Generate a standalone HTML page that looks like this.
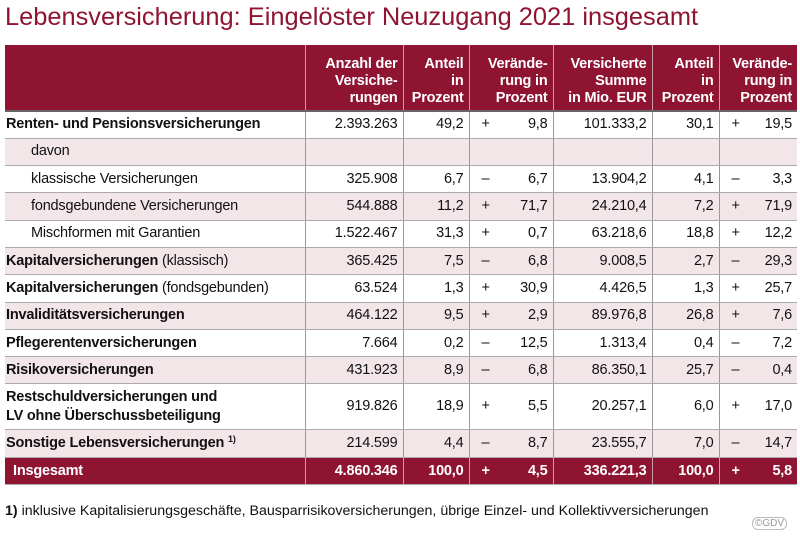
<!DOCTYPE html>
<html><head><meta charset="utf-8"><style>
body{margin:0;width:800px;height:538px;background:#fff;font-family:"Liberation Sans",sans-serif;color:#111;position:relative;overflow:hidden}
h1{position:absolute;left:5px;top:3px;margin:0;font-weight:normal;font-size:25.4px;color:#8e1432;letter-spacing:0px;white-space:nowrap}
table{position:absolute;left:5px;top:45px;border-collapse:collapse;table-layout:fixed;font-size:14.5px;letter-spacing:-0.2px}
td,th{padding:0 5px;height:27.3px;line-height:17px;border-bottom:1px solid #aaa;border-left:1px solid #999;white-space:nowrap;text-align:right;box-sizing:border-box}
td:first-child,th:first-child{border-left:none;text-align:left;font-weight:bold;padding-left:1px}
thead th{background:#8e1432;color:#fff;font-weight:bold;height:66px;line-height:17px;vertical-align:bottom;padding-bottom:3px;border-left:1px solid #c9a0aa;border-bottom:2px solid #666}
tr.p td{background:#f3e6e8}
td.s{position:relative}
td.s span{position:absolute;left:12px}
td.n{font-weight:normal!important;padding-left:26px}
tr.t td{background:#8e1432;color:#fff;font-weight:bold;border-left:1px solid #c9a0aa;height:27.5px}
tr.t td:first-child{padding-left:8px;border-left:none}
tr.d td{height:46px}
sup{font-size:9px;line-height:0;vertical-align:5px}
.foot{position:absolute;left:5px;top:503px;font-size:14.2px;letter-spacing:0px}
.gdv{position:absolute;left:752px;top:517px;font-size:10px;color:#999;border:1px solid #bbb;border-radius:6px;padding:0 2px}
</style></head><body>
<h1>Lebensversicherung: Eingelöster Neuzugang 2021 insgesamt</h1>
<table>
<colgroup><col style="width:300px"><col style="width:98px"><col style="width:66px"><col style="width:84px"><col style="width:99px"><col style="width:67px"><col style="width:78px"></colgroup>
<thead><tr><th></th><th>Anzahl der<br>Versiche-<br>rungen</th><th>Anteil<br>in<br>Prozent</th><th>Verände-<br>rung in<br>Prozent</th><th>Versicherte<br>Summe<br>in Mio. EUR</th><th>Anteil<br>in<br>Prozent</th><th>Verände-<br>rung in<br>Prozent</th></tr></thead>
<tbody>
<tr><td>Renten- und Pensionsversicherungen</td><td>2.393.263</td><td>49,2</td><td class="s"><span>+</span>9,8</td><td>101.333,2</td><td>30,1</td><td class="s"><span>+</span>19,5</td></tr>
<tr class="p"><td class="n">davon</td><td></td><td></td><td></td><td></td><td></td><td></td></tr>
<tr><td class="n">klassische Versicherungen</td><td>325.908</td><td>6,7</td><td class="s"><span>–</span>6,7</td><td>13.904,2</td><td>4,1</td><td class="s"><span>–</span>3,3</td></tr>
<tr class="p"><td class="n">fondsgebundene Versicherungen</td><td>544.888</td><td>11,2</td><td class="s"><span>+</span>71,7</td><td>24.210,4</td><td>7,2</td><td class="s"><span>+</span>71,9</td></tr>
<tr><td class="n">Mischformen mit Garantien</td><td>1.522.467</td><td>31,3</td><td class="s"><span>+</span>0,7</td><td>63.218,6</td><td>18,8</td><td class="s"><span>+</span>12,2</td></tr>
<tr class="p"><td>Kapitalversicherungen <span style="font-weight:normal">(klassisch)</span></td><td>365.425</td><td>7,5</td><td class="s"><span>–</span>6,8</td><td>9.008,5</td><td>2,7</td><td class="s"><span>–</span>29,3</td></tr>
<tr><td>Kapitalversicherungen <span style="font-weight:normal">(fondsgebunden)</span></td><td>63.524</td><td>1,3</td><td class="s"><span>+</span>30,9</td><td>4.426,5</td><td>1,3</td><td class="s"><span>+</span>25,7</td></tr>
<tr class="p"><td>Invaliditätsversicherungen</td><td>464.122</td><td>9,5</td><td class="s"><span>+</span>2,9</td><td>89.976,8</td><td>26,8</td><td class="s"><span>+</span>7,6</td></tr>
<tr><td>Pflegerentenversicherungen</td><td>7.664</td><td>0,2</td><td class="s"><span>–</span>12,5</td><td>1.313,4</td><td>0,4</td><td class="s"><span>–</span>7,2</td></tr>
<tr class="p"><td>Risikoversicherungen</td><td>431.923</td><td>8,9</td><td class="s"><span>–</span>6,8</td><td>86.350,1</td><td>25,7</td><td class="s"><span>–</span>0,4</td></tr>
<tr class="d"><td style="line-height:19px">Restschuldversicherungen und<br>LV ohne Überschussbeteiligung</td><td>919.826</td><td>18,9</td><td class="s"><span>+</span>5,5</td><td>20.257,1</td><td>6,0</td><td class="s"><span>+</span>17,0</td></tr>
<tr class="p"><td>Sonstige Lebensversicherungen <sup>1)</sup></td><td>214.599</td><td>4,4</td><td class="s"><span>–</span>8,7</td><td>23.555,7</td><td>7,0</td><td class="s"><span>–</span>14,7</td></tr>
<tr class="t"><td>Insgesamt</td><td>4.860.346</td><td>100,0</td><td class="s"><span>+</span>4,5</td><td>336.221,3</td><td>100,0</td><td class="s"><span>+</span>5,8</td></tr>
</tbody></table>
<div class="foot"><b>1)</b> inklusive Kapitalisierungsgeschäfte, Bausparrisikoversicherungen, übrige Einzel- und Kollektivversicherungen</div>
<div class="gdv">©GDV</div>
</body></html>
